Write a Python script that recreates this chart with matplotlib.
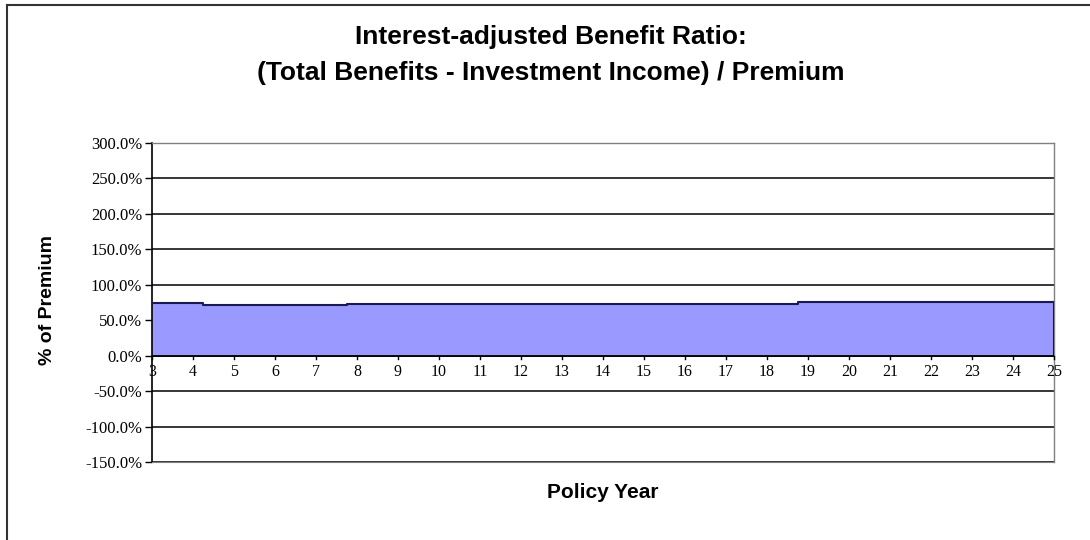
import matplotlib
matplotlib.use('Agg')
import matplotlib.pyplot as plt
from matplotlib.lines import Line2D

# Policy years where the ratio changes, and the ratio (% of premium) from that point on
change_years = [3, 4.25, 7.75, 18.75, 25]
benefit_ratio = [74, 71, 73, 75, 75]

year_ticks = list(range(3, 26))
pct_ticks = list(range(-150, 301, 50))

fig = plt.figure(figsize=(10.9, 5.4), dpi=100)
ax = fig.add_axes([152 / 1090, 1 - 462 / 540, (1054 - 152) / 1090, (462 - 143) / 540])

# area with dark outline
ax.fill_between(change_years, benefit_ratio, 0, step='post', color='#9999ff', lw=0, zorder=2)
ax.step(change_years, benefit_ratio, where='post', color='#1a1a50', lw=1.5, zorder=3)
ax.plot([25, 25], [0, benefit_ratio[-1]], color='#1a1a50', lw=1.5, zorder=3)

ax.set_xlim(3, 25)
ax.set_ylim(-150, 300)

# horizontal gridlines
for v in pct_ticks:
    ax.axhline(v, color='black', lw=1.1, zorder=1)
ax.axhline(0, color='black', lw=1.3, zorder=4)

ax.set_yticks(pct_ticks)
ax.set_yticklabels([f"{v:.1f}%" for v in pct_ticks], fontsize=12, family='Liberation Serif')
ax.tick_params(axis='y', direction='out', length=5, width=1, pad=2)

# x axis sits at 0%: ticks and labels drawn there
ax.set_xticks([])
for y in year_ticks:
    ax.plot([y, y], [0, -5], color='black', lw=1, zorder=4, clip_on=False)
    ax.text(y, -12, str(y), ha='center', va='top', fontsize=11.5, family='Liberation Serif')

for side in ['top', 'right']:
    ax.spines[side].set_color('#808080')
    ax.spines[side].set_linewidth(1)
ax.spines['bottom'].set_color('#808080')
ax.spines['left'].set_color('black')
ax.spines['left'].set_linewidth(1.2)

fig.text(0.505, 1 - 25 / 540, "Interest-adjusted Benefit Ratio:\n(Total Benefits - Investment Income) / Premium",
         ha='center', va='top', fontsize=19, fontweight='bold', family='Liberation Sans',
         linespacing=1.62)
fig.text(47 / 1090, 1 - 300 / 540, "% of Premium", rotation=90, ha='center', va='center',
         fontsize=14, fontweight='bold', family='Liberation Sans')
fig.text(603 / 1090, 1 - 493 / 540, "Policy Year", ha='center', va='center',
         fontsize=15, fontweight='bold', family='Liberation Sans')

# chart border (left and top visible)
fig.add_artist(Line2D([7 / 1090, 7 / 1090], [0, 1 - 5 / 540], transform=fig.transFigure, color='#333333', lw=1.5))
fig.add_artist(Line2D([7 / 1090, 1], [1 - 5 / 540, 1 - 5 / 540], transform=fig.transFigure, color='#333333', lw=1.5))

fig.savefig('out.png', dpi=100)
